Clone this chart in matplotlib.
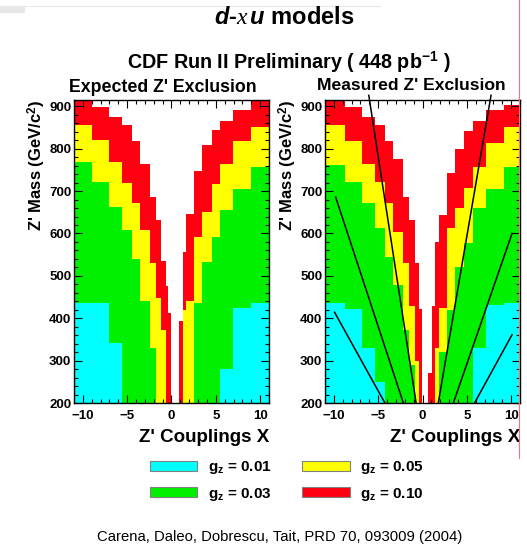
import matplotlib
matplotlib.use('Agg')
import matplotlib.pyplot as plt
from matplotlib.patches import Patch
from matplotlib.lines import Line2D
from matplotlib.ticker import MultipleLocator

plt.rcParams['font.family'] = 'Liberation Sans'
plt.rcParams['mathtext.fontset'] = 'custom'
plt.rcParams['mathtext.rm'] = 'Liberation Sans'
plt.rcParams['mathtext.bf'] = 'Liberation Sans:bold'
plt.rcParams['mathtext.it'] = 'Liberation Serif:italic'
plt.rcParams['mathtext.bfit'] = 'Liberation Sans:bold:italic'

# colour order: drawn outermost first
gz_labels = ['g$_{\\mathbf{z}}$ = 0.01', 'g$_{\\mathbf{z}}$ = 0.03',
             'g$_{\\mathbf{z}}$ = 0.05', 'g$_{\\mathbf{z}}$ = 0.10']
gz_colors = ['#00ffff', '#00f000', '#ffff00', '#ff0010']

# expected exclusion, left side (X < 0): bin edges and top mass of each colour
exp_left_edges = [-11.2, -9.0, -7.1, -5.6, -4.4, -3.5, -2.4, -1.7, -1.2, -0.65, -0.4, -0.1]
exp_left_red = [913, 898, 876, 857, 819, 764, 686, 631, 534, 475, 412]
exp_left_yellow = [856, 821, 768, 719, 671, 608, 530, 447, 373, 200, 200]
exp_left_green = [768, 721, 663, 608, 540, 440, 330, 200, 200, 200, 200]
exp_left_cyan = [436, 436, 342, 200, 200, 200, 200, 200, 200, 200, 200]

# expected exclusion, right side (X > 0)
exp_right_edges = [0.9, 1.28, 1.66, 2.53, 3.48, 4.55, 5.45, 6.97, 9.0, 11.2]
exp_right_red = [393, 557, 647, 747, 808, 844, 866, 891, 912]
exp_right_yellow = [200, 420, 440, 592, 651, 716, 764, 818, 852]
exp_right_green = [200, 200, 200, 436, 533, 592, 655, 706, 757]
exp_right_cyan = [200, 200, 200, 200, 200, 200, 280, 424, 436]

# measured exclusion, left side
meas_left_edges = [-11.2, -8.79, -6.78, -5.38, -4.24, -3.3, -2.24, -1.48, -0.83, -0.45, -0.08]
meas_left_red = [912, 898, 876, 857, 819, 776, 686, 631, 530, 421]
meas_left_yellow = [856, 819, 764, 721, 671, 604, 530, 428, 300, 200]
meas_left_green = [761, 721, 671, 612, 545, 479, 373, 290, 200, 200]
meas_left_cyan = [436, 421, 330, 250, 200, 200, 200, 200, 200, 200]

# measured exclusion, right side
meas_right_edges = [0.64, 1.02, 1.4, 1.86, 2.73, 3.67, 4.73, 5.65, 7.16, 9.17, 11.2]
meas_right_red = [270, 430, 580, 643, 743, 800, 843, 865, 891, 904]
meas_right_yellow = [200, 200, 330, 424, 612, 659, 708, 757, 813, 852]
meas_right_green = [200, 200, 200, 320, 420, 520, 577, 659, 706, 757]
meas_right_cyan = [200, 200, 200, 200, 200, 200, 200, 330, 432, 436]

# model lines on the measured plot
line_x = [[-0.72, -6.06], [-2.16, -9.8], [-4.24, -9.92],
          [1.78, 7.73], [3.48, 10.1], [5.87, 10.1]]
line_m = [[200, 926], [200, 686], [200, 414],
          [200, 926], [200, 600], [200, 361]]

fig = plt.figure(figsize=(5.27, 5.44), dpi=100)

ax1 = fig.add_axes([74/527, 1-403/544, 195/527, 303/544])
ax2 = fig.add_axes([325/527, 1-403/544, 195/527, 303/544])


def draw(ax, edges, red, yellow, green, cyan):
    for tops, col in zip([red, yellow, green, cyan], gz_colors[::-1]):
        ax.stairs(tops, edges, baseline=200, fill=True, color=col, lw=0)


draw(ax1, exp_left_edges, exp_left_red, exp_left_yellow, exp_left_green, exp_left_cyan)
draw(ax1, exp_right_edges, exp_right_red, exp_right_yellow, exp_right_green, exp_right_cyan)
draw(ax2, meas_left_edges, meas_left_red, meas_left_yellow, meas_left_green, meas_left_cyan)
draw(ax2, meas_right_edges, meas_right_red, meas_right_yellow, meas_right_green, meas_right_cyan)

for xs, ms in zip(line_x, line_m):
    ax2.plot(xs, ms, color='black', lw=1.1, clip_on=False, zorder=3)

for ax in [ax1, ax2]:
    ax.set_xlim(-11, 11)
    ax.set_ylim(200, 915)
    ax.set_xticks([-10, -5, 0, 5, 10])
    ax.xaxis.set_minor_locator(MultipleLocator(1))
    ax.yaxis.set_major_locator(MultipleLocator(100))
    ax.yaxis.set_minor_locator(MultipleLocator(20))
    ax.tick_params(which='both', direction='in', top=True, right=True, width=0.8)
    ax.tick_params(which='major', length=6, labelsize=9.5)
    ax.tick_params(axis='x', which='major', pad=5)
    ax.tick_params(axis='y', which='major', pad=2)
    ax.tick_params(which='minor', length=3)
    for lab in ax.get_xticklabels() + ax.get_yticklabels():
        lab.set_fontweight('bold')
    for sp in ax.spines.values():
        sp.set_linewidth(1.0)
        sp.set_zorder(4)
    ax.set_xlabel("Z' Couplings X", loc='right', fontsize=13.5, fontweight='bold', labelpad=5)
    ax.set_ylabel("Z' Mass (GeV/c$^{\\mathbf{2}}$)", loc='top', fontsize=12,
                  fontweight='bold', labelpad=1)

fig.text(163/527, 1-87/544, "Expected Z' Exclusion", ha='center', va='center',
         fontsize=12.8, fontweight='bold')
fig.text(411/527, 1-85/544, "Measured Z' Exclusion", ha='center', va='center',
         fontsize=12.6, fontweight='bold')

fig.text(284/527, 1-17/544, "$\\mathbfit{d}$-$x\\,\\mathbfit{u}$ models", ha='center',
         va='center', fontsize=17, fontweight='bold')
fig.text(289/527, 1-62/544, "CDF Run II Preliminary ( 448 pb$^{\\mathbf{-1}}$ )",
         ha='center', va='center', fontsize=14.2, fontweight='bold')

handles = [Patch(facecolor=c, edgecolor='#808080', lw=0.8) for c in gz_colors]
fig.legend(handles, gz_labels, ncol=2, loc='center', bbox_to_anchor=(287/527, 1-481/544),
           frameon=False, handlelength=3.1, handleheight=0.6, handletextpad=0.7,
           columnspacing=2.0, labelspacing=0.6, prop={'weight': 'bold', 'size': 11})

fig.text(280/527, 1-537/544, "Carena, Daleo, Dobrescu, Tait, PRD 70, 093009 (2004)",
         ha='center', va='center', fontsize=10.7)

# scan artefacts around the edges of the original picture
fig.patches.append(plt.Rectangle((0, 1-13/544), 25/527, 6/544, transform=fig.transFigure,
                                 facecolor='#e6e6e6', edgecolor='none'))
fig.lines.append(Line2D([0, 380/527], [1-6/544, 1-6/544], transform=fig.transFigure,
                        color='#e8e8e8', lw=0.8))
fig.lines.append(Line2D([519/527, 519/527], [1, 1-458/544], transform=fig.transFigure,
                        color='#ff7070', lw=0.8, zorder=0))

fig.savefig('out.png', dpi=100)
